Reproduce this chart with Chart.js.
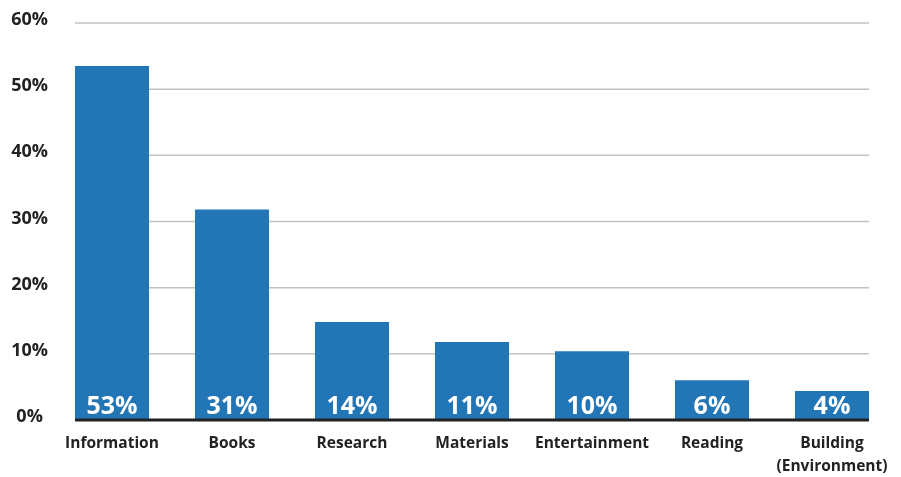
<!DOCTYPE html>
<html>
<head>
<meta charset="utf-8">
<script src="https://cdn.jsdelivr.net/npm/chart.js@4/dist/chart.umd.min.js"></script>
<style>
  html, body { margin: 0; padding: 0; background: #fff; }
  #wrap { width: 901px; height: 477px; }
</style>
</head>
<body>
<div id="wrap"><canvas id="myChart" width="901" height="477"></canvas></div>
<script>
const categories = ['Information', 'Books', 'Research', 'Materials', 'Entertainment', 'Reading', ['Building', '(Environment)']];
const shares = [53.5, 31.8, 14.8, 11.8, 10.4, 6.0, 4.4];
const shareLabels = ['53%', '31%', '14%', '11%', '10%', '6%', '4%'];
const yTicks = [0, 10, 20, 30, 40, 50, 60];

const FONT = '"Open Sans", sans-serif';
const BLUE = '#2376b5';

// gridlines only span from first bar to last bar, like the original
const gridPlugin = {
    id: 'gridLines',
    beforeDatasetsDraw(chart) {
        const ctx = chart.ctx;
        const y = chart.scales.y;
        const bars = chart.getDatasetMeta(0).data;
        const x0 = bars[0].x - bars[0].width / 2;
        const x1 = bars[bars.length - 1].x + bars[bars.length - 1].width / 2;
        ctx.save();
        ctx.strokeStyle = '#c2c2c2';
        ctx.lineWidth = 1.5;
        yTicks.forEach(v => {
            if (v === 0) return;
            const py = y.getPixelForValue(v);
            ctx.beginPath();
            ctx.moveTo(x0, py);
            ctx.lineTo(x1, py);
            ctx.stroke();
        });
        ctx.restore();
    },
    afterDatasetsDraw(chart) {
        const ctx = chart.ctx;
        const y = chart.scales.y;
        const bars = chart.getDatasetMeta(0).data;
        const x0 = bars[0].x - bars[0].width / 2;
        const x1 = bars[bars.length - 1].x + bars[bars.length - 1].width / 2;
        const zero = y.getPixelForValue(0);
        ctx.save();
        // value labels inside bars
        ctx.fillStyle = '#fff';
        ctx.font = 'bold 25px ' + FONT;
        ctx.textAlign = 'center';
        ctx.textBaseline = 'alphabetic';
        bars.forEach((bar, i) => {
            ctx.fillText(shareLabels[i], bar.x, zero - 6);
        });
        // baseline
        ctx.strokeStyle = '#222';
        ctx.lineWidth = 3;
        ctx.beginPath();
        ctx.moveTo(x0, zero);
        ctx.lineTo(x1, zero);
        ctx.stroke();
        ctx.restore();
    }
};

const config = {
    type: 'bar',
    data: {
        labels: categories,
        datasets: [{
            data: shares,
            backgroundColor: BLUE,
            borderWidth: 0,
            barPercentage: 0.617,
            categoryPercentage: 1.0,
        }],
    },
    options: {
        responsive: false,
        animation: false,
        layout: { padding: { left: 2, right: 9, top: 23, bottom: 4 } },
        plugins: {
            legend: { display: false },
            tooltip: { enabled: false },
        },
        scales: {
            x: {
                afterFit(scale) { scale.height = 53; },
                grid: { display: false, drawTicks: false },
                border: { display: false },
                ticks: {
                    color: '#222',
                    font: { family: FONT, size: 15.5, weight: 'bold', lineHeight: 1.5 },
                    padding: 12,
                    maxRotation: 0,
                    autoSkip: false,
                },
            },
            y: {
                min: 0,
                max: 60,
                afterFit(scale) { scale.width = 50; },
                afterBuildTicks(scale) { scale.ticks = yTicks.map(v => ({ value: v })); },
                grid: { display: false, drawTicks: false },
                border: { display: false },
                ticks: {
                    color: '#222',
                    crossAlign: 'center',
                    padding: 4,
                    labelOffset: -3,
                    font: { family: FONT, size: 18, weight: 'bold' },
                    callback: v => v + '%',
                },
            },
        },
    },
    plugins: [gridPlugin],
};

const ctx = document.getElementById('myChart').getContext('2d');
const myChart = new Chart(ctx, config);
</script>
</body>
</html>
